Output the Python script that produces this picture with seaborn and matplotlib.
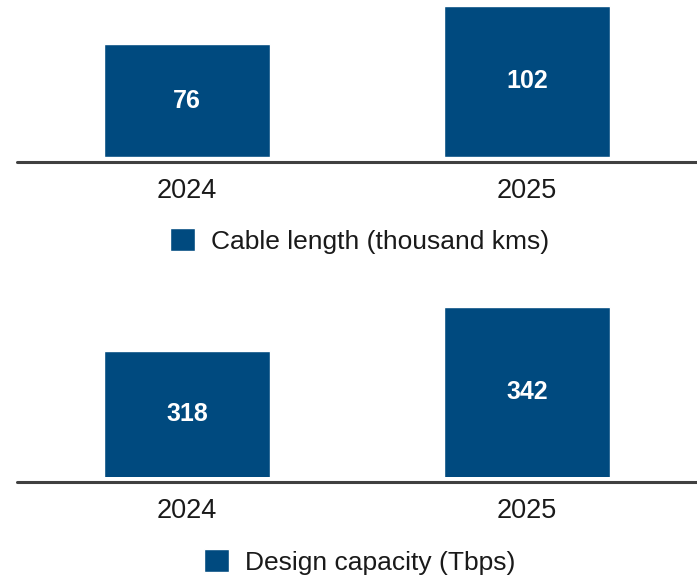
import matplotlib
matplotlib.use("Agg")
import matplotlib.pyplot as plt
from matplotlib.lines import Line2D
import seaborn as sns
import pandas as pd

years = ["2024", "2025"]
cable_length = [76, 102]
design_capacity = [318, 342]
cable_label = "Cable length (thousand kms)"
capacity_label = "Design capacity (Tbps)"

BAR_COLOR = "#004a7f"
LINE_COLOR = "#404040"

sns.set_theme(style="white")
plt.rcParams["font.family"] = ["Liberation Sans", "DejaVu Sans"]

W, H = 697, 576
fig = plt.figure(figsize=(W / 100, H / 100), dpi=100)

def px_axes(left, top, right, bottom):
    return fig.add_axes([left / W, 1 - bottom / H, (right - left) / W, (bottom - top) / H])

panels = [
    dict(values=cable_length, label=cable_label, box=(17, 6, 697, 157), ylim=(0, 102),
         line_y=161.5, legend_y=241),
    dict(values=design_capacity, label=capacity_label, box=(17, 307, 697, 477), ylim=(250, 342),
         line_y=482, legend_y=562),
]

for p in panels:
    ax = px_axes(*p["box"])
    df = pd.DataFrame({"year": years, "value": p["values"]})
    sns.barplot(data=df, x="year", y="value", color=BAR_COLOR, width=0.49,
                saturation=1, ax=ax, label=p["label"])
    handles, labels = ax.get_legend_handles_labels()
    if ax.get_legend() is not None:
        ax.get_legend().remove()
    ax.set_xlim(-0.5, 1.5)
    ax.set_ylim(*p["ylim"])
    for s in ax.spines.values():
        s.set_visible(False)
    ax.set_yticks([])
    ax.set_xlabel("")
    ax.set_ylabel("")
    ax.tick_params(axis="x", length=0, pad=15, labelsize=19.5, labelcolor="#1a1a1a")
    y0 = p["ylim"][0]
    for i, v in enumerate(p["values"]):
        ax.text(i, (y0 + v) / 2, str(v), ha="center", va="center", color="white",
                fontsize=18, fontweight="bold")
    fig.add_artist(Line2D([17 / W, 1.0], [1 - p["line_y"] / H] * 2, color=LINE_COLOR,
                          linewidth=2.2, transform=fig.transFigure))
    fig.legend(handles[:1], labels[:1], loc="center",
               bbox_to_anchor=(359.5 / W, 1 - p["legend_y"] / H),
               frameon=False, handlelength=0.95, handleheight=0.95,
               handletextpad=0.6, prop={"family": ["Liberation Sans", "DejaVu Sans"], "size": 19},
               labelcolor="#1a1a1a")

fig.savefig("out.png", dpi=100)
